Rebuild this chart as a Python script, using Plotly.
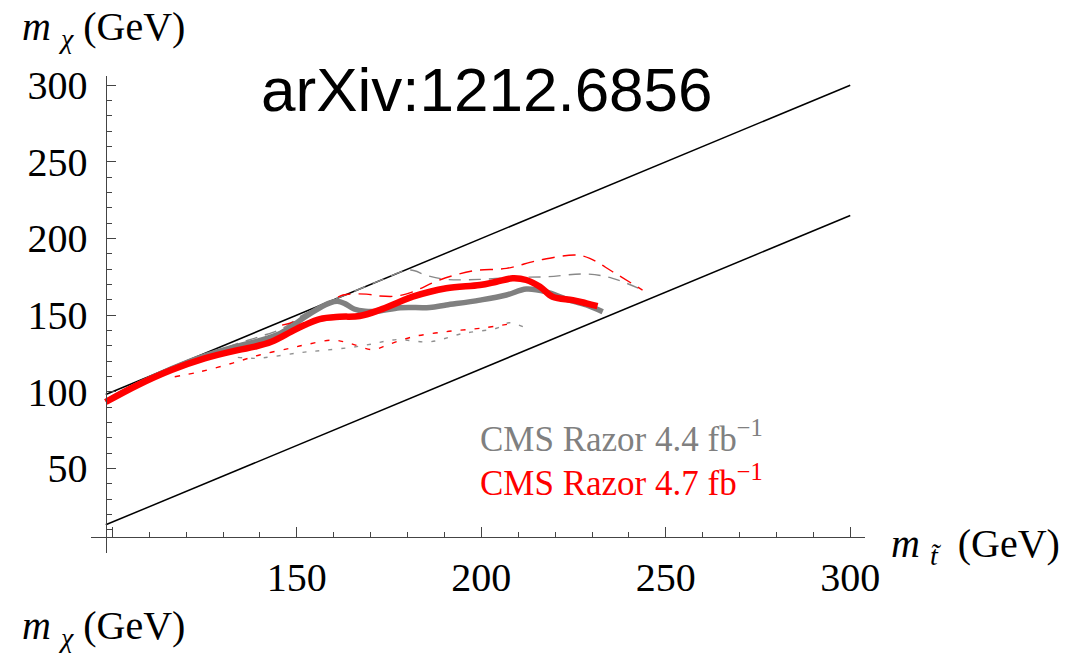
import plotly.graph_objects as go

# Stop mass (GeV) and neutralino mass (GeV) along each exclusion contour
obs44_mstop = [98.2, 106.9, 116.0, 125.0, 134.0, 140.0, 145.0, 148.5, 152.0, 156.0, 159.0, 161.0,
               163.0, 165.5, 168.5, 172.0, 177.9, 186.0, 190.5, 199.6, 206.8, 212.2, 217.6, 223.0,
               228.5, 232.9]
obs44_mchi = [93.5, 104.8, 115.0, 123.5, 129.8, 133.5, 137.5, 142.5, 148.5, 154.5, 158.0, 159.0,
              157.5, 154.0, 152.5, 152.5, 154.8, 155.0, 156.6, 159.8, 163.1, 167.0, 165.2, 160.5,
              156.6, 152.2]

obs47_mstop = [98.2, 106.9, 116.0, 125.0, 134.0, 138.6, 143.1, 148.5, 152.1, 156.2, 161.6, 167.0,
               172.4, 177.9, 181.4, 190.5, 199.6, 204.1, 208.5, 212.2, 215.9, 219.3, 224.8, 228.5, 231.5]
obs47_mchi = [93.3, 104.4, 114.2, 121.8, 127.2, 129.4, 132.6, 139.2, 143.5, 147.4, 148.9, 149.4,
              153.3, 158.7, 162.0, 167.5, 169.6, 171.8, 174.0, 172.9, 168.5, 162.0, 159.8, 157.7, 155.9]

exp44_mstop = [131.0, 134.0, 140.4, 146.5, 150.8, 158.0, 165.0, 172.0, 180.7, 185.0, 190.5, 199.6,
               208.5, 217.6, 228.5, 235.6, 243.7]
exp44_mchi = [129.0, 131.6, 136.3, 141.8, 149.0, 158.0, 165.0, 172.0, 179.4, 176.0, 173.3, 173.3,
              174.6, 175.0, 176.8, 174.0, 166.3]

exp47_mstop = [146.0, 150.8, 156.2, 159.7, 162.5, 168.8, 172.4, 176.9, 181.4, 188.7, 197.7, 206.8,
               215.8, 225.7, 229.4, 235.6, 243.7]
exp47_mchi = [143.5, 146.8, 154.4, 159.5, 163.1, 163.7, 162.5, 162.4, 165.2, 172.9, 178.9, 180.5,
              185.9, 189.2, 187.0, 178.3, 166.3]

band44_mstop = [134.0, 138.6, 143.1, 150.8, 157.0, 164.3, 170.0, 176.9, 186.0, 195.0, 204.1, 207.5, 211.7]
band44_mchi = [122.4, 121.8, 122.8, 125.5, 127.0, 128.8, 131.0, 134.0, 132.6, 138.0, 141.4, 145.0, 142.0]

band47_mstop = [116.9, 123.7, 132.6, 139.9, 148.0, 153.0, 159.8, 164.3, 170.6, 175.0, 181.5, 190.5,
                199.6, 208.5]
band47_mchi = [109.8, 113.0, 118.7, 124.0, 128.3, 131.0, 133.7, 131.6, 127.5, 131.0, 135.9, 139.2,
               141.4, 144.5]

# Kinematic boundaries: m_chi = m_stop and m_chi = m_stop - (m_W + m_b)
edge_mstop = [98.2, 300.0]
edge_upper = [98.2, 300.0]
edge_lower = [13.2, 215.0]

x_major = [100, 150, 200, 250, 300]
x_major_text = ["", "150", "200", "250", "300"]
x_minor = [v for v in range(110, 300, 10) if v % 50]
y_major = [50, 100, 150, 200, 250, 300]
y_minor = [v for v in range(10, 300, 10) if v % 50]

X_RANGE = [94.2, 304.0]
Y_RANGE = [-5.2, 306.0]
X_CROSS = 98.2
Y_CROSS = 5.4

SERIF = "Liberation Serif"
GRAY = "#808080"
RED = "#ff0000"

fig = go.Figure()

fig.add_trace(go.Scatter(x=edge_mstop, y=edge_upper, mode="lines",
                         line=dict(color="black", width=1.5)))
fig.add_trace(go.Scatter(x=edge_mstop, y=edge_lower, mode="lines",
                         line=dict(color="black", width=1.5)))

fig.add_trace(go.Scatter(x=band44_mstop, y=band44_mchi, mode="lines", line_shape="spline",
                         line=dict(color="#909090", width=1.4, dash="4px,9px")))
fig.add_trace(go.Scatter(x=band47_mstop, y=band47_mchi, mode="lines", line_shape="spline",
                         line=dict(color=RED, width=1.4, dash="5px,9px")))
fig.add_trace(go.Scatter(x=exp44_mstop, y=exp44_mchi, mode="lines", line_shape="spline",
                         line=dict(color="#888888", width=1.4, dash="12px,8px")))
fig.add_trace(go.Scatter(x=exp47_mstop, y=exp47_mchi, mode="lines", line_shape="spline",
                         line=dict(color=RED, width=1.4, dash="13px,8px")))
fig.add_trace(go.Scatter(x=obs44_mstop, y=obs44_mchi, mode="lines", line_shape="spline",
                         line=dict(color=GRAY, width=5.5)))
fig.add_trace(go.Scatter(x=obs47_mstop, y=obs47_mchi, mode="lines", line_shape="spline",
                         line=dict(color=RED, width=6.5)))

axis_color = "#444444"
tick_font = dict(family=SERIF, size=40, color="black")

fig.update_xaxes(
    range=X_RANGE, anchor="free",
    position=(Y_CROSS - Y_RANGE[0]) / (Y_RANGE[1] - Y_RANGE[0]),
    showline=True, linecolor=axis_color, linewidth=1.3,
    showgrid=False, zeroline=False,
    ticks="inside", ticklen=10, tickwidth=1.2, tickcolor=axis_color,
    tickmode="array", tickvals=x_major, ticktext=x_major_text,
    minor=dict(ticks="inside", ticklen=5, tickwidth=1.0, tickcolor=axis_color,
               tickmode="array", tickvals=x_minor, showgrid=False),
    tickfont=tick_font, ticklabelstandoff=5,
)
fig.update_yaxes(
    range=Y_RANGE, anchor="free",
    position=(X_CROSS - X_RANGE[0]) / (X_RANGE[1] - X_RANGE[0]),
    showline=True, linecolor=axis_color, linewidth=1.3,
    showgrid=False, zeroline=False,
    ticks="inside", ticklen=9, tickwidth=1.2, tickcolor=axis_color,
    tickmode="array", tickvals=y_major,
    minor=dict(ticks="inside", ticklen=5, tickwidth=1.0, tickcolor=axis_color,
               tickmode="array", tickvals=y_minor, showgrid=False),
    tickfont=tick_font, ticklabelstandoff=10,
)

L, R, T, B = 91, 201, 76, 102
W, H = 1066, 655
PW, PH = W - L - R, H - T - B


def px(xp):
    return (xp - L) / PW


def py(yp):
    return (H - B - yp) / PH


label_font = dict(family=SERIF, size=40, color="black")
annotations = [
    dict(text="arXiv:1212.6856", x=px(487), y=py(90), xanchor="center", yanchor="middle",
         font=dict(family="Liberation Sans", size=62, color="black")),
    dict(text="<i>m</i> <sub><i>χ</i></sub> (GeV)", x=px(20), y=py(29), xanchor="left",
         yanchor="middle", font=label_font),
    dict(text="<i>m</i> <sub><i>χ</i></sub> (GeV)", x=px(20), y=py(628), xanchor="left",
         yanchor="middle", font=label_font),
    dict(text="<i>m</i> <sub><i>t̃</i></sub>  (GeV)", x=px(889), y=py(546), xanchor="left",
         yanchor="middle", font=label_font),
    dict(text="CMS Razor 4.4 fb<sup>−1</sup>", x=px(478), y=py(436), xanchor="left",
         yanchor="middle", font=dict(family=SERIF, size=35, color=GRAY)),
    dict(text="CMS Razor 4.7 fb<sup>−1</sup>", x=px(478), y=py(480), xanchor="left",
         yanchor="middle", font=dict(family=SERIF, size=35, color=RED)),
]
for a in annotations:
    a.update(xref="paper", yref="paper", showarrow=False)

fig.update_layout(
    width=W, height=H,
    margin=dict(l=L, r=R, t=T, b=B, pad=0),
    paper_bgcolor="white", plot_bgcolor="white",
    showlegend=False,
    annotations=annotations,
)

fig.write_html("out.html")
